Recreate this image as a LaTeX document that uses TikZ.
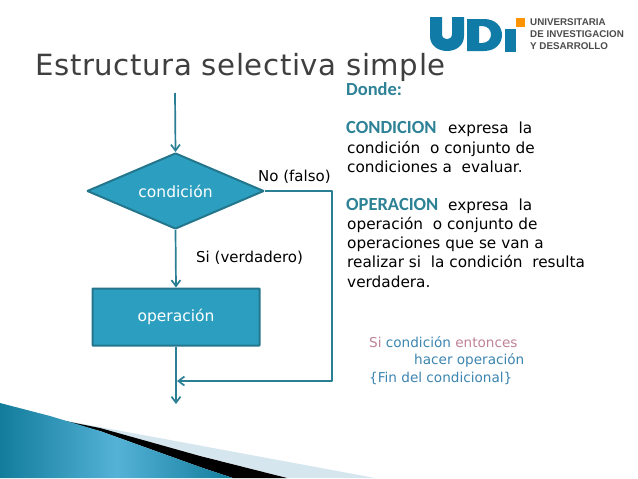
\documentclass[tikz,border=0pt]{standalone}
\usepackage{fontspec}
\setmainfont{DejaVu Sans}
\newfontfamily\heros{Liberation Sans}
\newfontfamily\headf{Carlito}
\newfontfamily\titlef[LetterSpace=2]{DejaVu Sans}
\usetikzlibrary{arrows.meta,shapes.geometric}
\definecolor{flow}{HTML}{2A7F95}
\definecolor{fillb}{HTML}{2C9FC0}
\definecolor{edgeb}{HTML}{23768C}
\definecolor{head}{HTML}{2E8296}
\definecolor{udi}{HTML}{0F7BA6}
\definecolor{titlec}{HTML}{3F3F3F}
\definecolor{pinkc}{HTML}{BF8299}
\definecolor{bluec}{HTML}{3C85B0}
\definecolor{lightb}{HTML}{D6E6EE}
\definecolor{bandb}{HTML}{54B2D6}
\definecolor{bandd}{HTML}{127C9B}
\tikzset{
  px/.style={x=1pt,y=-1pt},
  conn/.style={draw=flow,line width=1.7pt,line join=round,-{Straight Barb[length=6pt,width=9pt,line width=1.7pt]}},
  flowshape/.style={draw=edgeb,fill=fillb,line width=2pt,rounded corners=0.6pt,text=white,font=\fontsize{15.5}{15}\selectfont,inner sep=0pt},
  lbl/.style={inner sep=0pt,anchor=base west,text=black,font=\fontsize{15}{15}\selectfont},
  headw/.style={inner sep=0pt,anchor=base west,text=head,font=\headf\fontsize{18.5}{15}\selectfont\bfseries},
  body/.style={inner sep=0pt,anchor=base west,text=black,font=\fontsize{15.3}{15}\selectfont},
  algo/.style={inner sep=0pt,anchor=base west,font=\fontsize{13.6}{15}\selectfont},
  logot/.style={inner sep=0pt,anchor=base west,font=\heros\fontsize{9.8}{11}\selectfont\bfseries,text=black!70},
}
\begin{document}
\begin{tikzpicture}[px]
\useasboundingbox (0,0) rectangle (638,479);
\fill[white] (0,0) rectangle (638,479);
% bottom band
\fill[lightb] (62,420) -- (375,478) -- (287,478) -- cycle;
\fill[black] (40,416) -- (100,428) -- (200,456) -- (287,478) -- (233,478) -- (200,467) -- (100,431) -- cycle;
\shade[left color=bandd,right color=bandd,middle color=bandb] (0,403) -- (50,416) -- (100,431) -- (200,467) -- (233,478) -- (0,478) -- cycle;
% logo
\fill[udi] (430,17) -- (442,17) -- (442,34) .. controls (442,41) and (452,41) .. (452,34) -- (452,17) -- (464,17) -- (464,36) .. controls (464,56) and (430,56) .. (430,36) -- cycle;
\fill[udi,even odd rule] (467,19) -- (484,19) .. controls (508,19) and (508,51) .. (484,51) -- (467,51) -- cycle (479,26) -- (482,26) .. controls (494,26) and (494,43) .. (482,43) -- (479,43) -- cycle;
\fill[udi] (505,29) rectangle (516,52);
\fill[orange!85!yellow] (516,18) rectangle (525,27);
\node[logot] (u1) at (530,25) {UNIVERSITARIA};
\node[logot] (u2) at (530,37) {DE INVESTIGACION};
\node[logot] (u3) at (530,49) {Y DESARROLLO};
% title
\node[inner sep=0pt,anchor=base west,text=titlec,font=\titlef\fontsize{29.2}{30}\selectfont] (title) at (35,75) {Estructura selectiva simple};
% flow
\coordinate (top) at (175,93);
\coordinate (cr) at (332,191);
\coordinate (br) at (332,381);
\coordinate (join) at (177,381);
\coordinate (bot) at (176,404);
\node[diamond,flowshape,minimum width=177pt,minimum height=76pt,aspect=2.3] (d) at (175.5,191) {condición};
\node[rectangle,flowshape,minimum width=167pt,minimum height=57pt] (o) at (176,317) {operación};
\draw[conn] (top) -- (d.north);
\draw[conn] (d.south) -- (o.north);
\draw[conn] (o.south) -- (bot);
\draw[conn] (d.east) -- (cr) -- (br) -- (join);
\node[lbl] (no) at (258,181) {No (falso)};
\node[lbl] (si) at (196,262) {Si (verdadero)};
% right text
\node[headw] (h0) at (346,95) {Donde:};
\node[headw] (h1) at (346,133) {CONDICION};
\node[body] (t1) at (448,133) {expresa\ \ la};
\node[body] (t2) at (347,153) {condición\ \ o conjunto de};
\node[body] (t3) at (347,172) {condiciones a\ \ evaluar.};
\node[headw] (h2) at (346,210) {OPERACION};
\node[body] (t4) at (448,210) {expresa\ \ la};
\node[body] (t5) at (347,229) {operación\ \ o conjunto de};
\node[body] (t6) at (347,248) {operaciones que se van a};
\node[body] (t7) at (347,267) {realizar si\ \ la condición\ \ resulta};
\node[body] (t8) at (347,287) {verdadera.};
\node[algo] (a1) at (369,347) {\textcolor{pinkc}{Si} \textcolor{bluec}{condición} \textcolor{pinkc}{entonces}};
\node[algo,text=bluec] (a2) at (414,364) {hacer operación};
\node[algo,text=bluec] (a3) at (369,382) {\{Fin del condicional\}};
\end{tikzpicture}
\end{document}
